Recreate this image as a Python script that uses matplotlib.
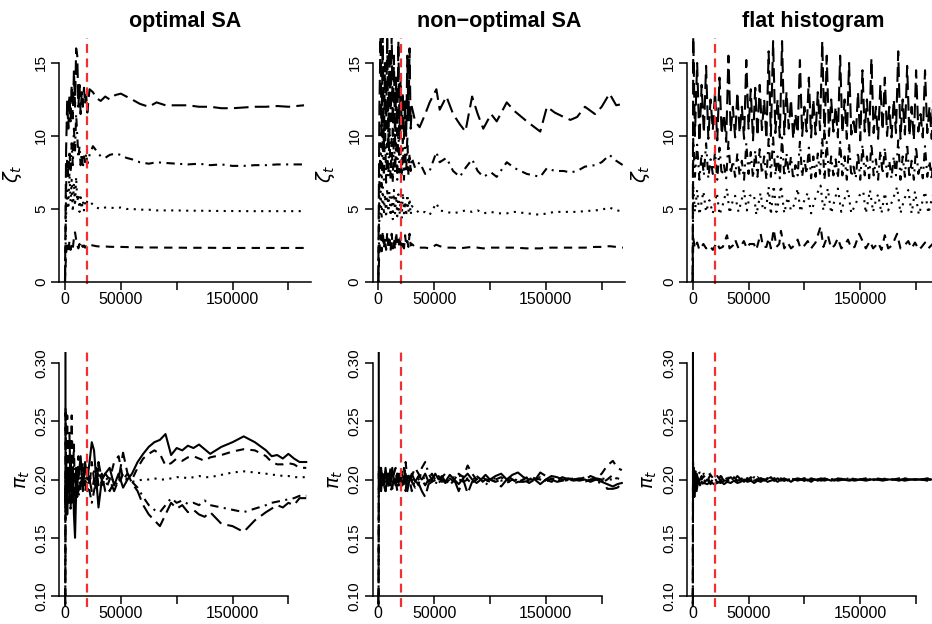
import matplotlib
matplotlib.use("Agg")
import matplotlib.pyplot as plt

plt.rcParams['font.family'] = ['Liberation Sans', 'DejaVu Sans']
plt.rcParams['mathtext.fontset'] = 'dejavusans'

# ---------------- data ----------------
titles = ["optimal SA", "non\u2212optimal SA", "flat histogram"]
xtick_vals = [0, 50000, 100000, 150000, 200000]
xtick_labels = ["0", "50000", "", "150000", ""]
ytick_top = [0, 5, 10, 15]
ytick_bot = [0.10, 0.15, 0.20, 0.25, 0.30]
ytick_bot_labels = ["0.10", "0.15", "0.20", "0.25", "0.30"]
burn_in = 20000

# optimal SA, zeta
tA = [0, 1000, 2000, 3000, 4000, 5000, 6000, 7000, 8000, 9000,
      10000, 11000, 12000, 13000, 14000, 15000, 16000, 17000, 18000, 19000,
      20000, 22000, 25000, 28000, 32000, 36000, 40000, 45000, 50000, 55000,
      60000, 67000, 75000, 82000, 90000, 100000, 110000, 120000, 130000, 140000,
      150000, 160000, 170000, 180000, 190000, 200000, 214000]
zA1 = [0, 2.0, 2.5, 2.1, 2.8, 2.2, 2.6, 2.3, 3.0, 3.4,
       2.9, 2.5, 2.3, 2.6, 2.3, 2.5, 2.4, 2.5, 2.35, 2.45,
       2.4, 2.55, 2.5, 2.45, 2.42, 2.43, 2.41, 2.4, 2.4, 2.39,
       2.38, 2.37, 2.36, 2.36, 2.35, 2.35, 2.34, 2.34, 2.34, 2.33,
       2.33, 2.33, 2.33, 2.33, 2.33, 2.33, 2.33]
zA2 = [0, 4.5, 6.5, 5.0, 7.5, 5.5, 7.0, 4.8, 6.8, 5.2,
       7.2, 5.5, 6.0, 4.8, 5.8, 5.0, 5.6, 4.9, 5.4, 5.2,
       5.6, 5.5, 5.3, 5.1, 5.0, 5.1, 5.1, 5.05, 5.1, 5.0,
       5.0, 4.95, 4.95, 4.9, 4.9, 4.9, 4.88, 4.88, 4.87, 4.86,
       4.86, 4.85, 4.85, 4.85, 4.85, 4.85, 4.85]
zA3 = [0, 6.5, 8.5, 7.0, 9.0, 7.5, 9.5, 8.0, 10.5, 9.0,
       11.5, 10.0, 8.5, 9.3, 8.0, 8.8, 7.8, 8.6, 8.2, 8.8,
       8.1, 8.7, 9.3, 9.0, 8.6, 8.5, 8.7, 8.8, 8.7, 8.5,
       8.4, 8.2, 8.1, 8.2, 8.15, 8.1, 8.05, 8.1, 8.0, 8.05,
       7.95, 7.95, 8.0, 8.0, 8.05, 8.05, 8.05]
zA4 = [0, 9.0, 12.5, 10.5, 12.8, 11.0, 13.5, 11.2, 14.5, 12.0,
       16.0, 15.5, 12.0, 13.5, 11.5, 13.0, 12.0, 13.3, 12.2, 12.8,
       11.6, 13.2, 13.0, 12.6, 12.4, 12.7, 12.5, 12.8, 12.9, 12.7,
       12.5, 12.2, 12.0, 12.3, 12.1, 12.1, 12.1, 12.0, 12.0, 11.9,
       11.9, 11.95, 12.0, 12.0, 12.05, 12.0, 12.1]

# optimal SA, pi
tB = [0, 500, 1000, 2000, 3000, 4000, 5000, 6000, 7000, 8000,
      9000, 10000, 11000, 12000, 14000, 16000, 18000, 20000, 22000, 24000,
      26000, 28000, 30000, 33000, 36000, 40000, 44000, 48000, 52000, 56000,
      60000, 65000, 70000, 75000, 80000, 85000, 90000, 95000, 100000, 105000,
      110000, 115000, 120000, 125000, 130000, 140000, 150000, 160000, 170000, 180000,
      185000, 190000, 195000, 200000, 205000, 210000, 216000]
pB1 = [1.0, 0.18, 0.22, 0.17, 0.21, 0.19, 0.215, 0.18, 0.21, 0.17,
       0.15, 0.19, 0.21, 0.20, 0.22, 0.19, 0.215, 0.20, 0.215, 0.232,
       0.225, 0.20, 0.176, 0.20, 0.205, 0.21, 0.195, 0.205, 0.193, 0.20,
       0.205, 0.215, 0.222, 0.228, 0.232, 0.234, 0.239, 0.221, 0.227, 0.225,
       0.229, 0.227, 0.23, 0.226, 0.222, 0.228, 0.232, 0.237, 0.232, 0.225,
       0.22, 0.221, 0.218, 0.222, 0.218, 0.215, 0.215]
pB2 = [0.0, 0.262, 0.2, 0.255, 0.18, 0.24, 0.19, 0.255, 0.2, 0.23,
       0.18, 0.21, 0.185, 0.22, 0.19, 0.215, 0.195, 0.21, 0.195, 0.215,
       0.2, 0.21, 0.195, 0.205, 0.19, 0.2, 0.215, 0.22, 0.2, 0.205,
       0.2, 0.21, 0.218, 0.222, 0.225, 0.222, 0.212, 0.214, 0.218, 0.216,
       0.219, 0.22, 0.218, 0.216, 0.219, 0.221, 0.224, 0.226, 0.225, 0.22,
       0.215, 0.213, 0.213, 0.214, 0.213, 0.21, 0.21]
pB3 = [0.0, 0.2, 0.21, 0.195, 0.205, 0.2, 0.21, 0.198, 0.205, 0.2,
       0.195, 0.205, 0.2, 0.207, 0.2, 0.205, 0.2, 0.206, 0.2, 0.203,
       0.207, 0.2, 0.204, 0.198, 0.202, 0.198, 0.201, 0.2, 0.199, 0.2,
       0.198, 0.199, 0.2, 0.2, 0.201, 0.2, 0.2, 0.201, 0.202, 0.202,
       0.201, 0.202, 0.203, 0.202, 0.202, 0.204, 0.206, 0.207, 0.206, 0.205,
       0.204, 0.204, 0.203, 0.203, 0.202, 0.202, 0.202]
pB4 = [0.0, 0.19, 0.175, 0.2, 0.21, 0.18, 0.2, 0.19, 0.185, 0.2,
       0.21, 0.195, 0.2, 0.185, 0.195, 0.2, 0.19, 0.2, 0.19, 0.18,
       0.19, 0.2, 0.21, 0.195, 0.2, 0.19, 0.198, 0.195, 0.205, 0.2,
       0.198, 0.193, 0.185, 0.178, 0.174, 0.172, 0.178, 0.184, 0.18, 0.182,
       0.179, 0.18, 0.178, 0.182, 0.178, 0.176, 0.174, 0.172, 0.175, 0.178,
       0.18, 0.181, 0.182, 0.183, 0.184, 0.186, 0.186]
pB5 = [0.0, 0.17, 0.195, 0.18, 0.2, 0.19, 0.175, 0.2, 0.2, 0.2,
       0.205, 0.2, 0.205, 0.19, 0.195, 0.2, 0.2, 0.19, 0.2, 0.19,
       0.2, 0.19, 0.215, 0.2, 0.205, 0.2, 0.19, 0.2, 0.223, 0.205,
       0.197, 0.19, 0.178, 0.17, 0.165, 0.16, 0.17, 0.18, 0.175, 0.178,
       0.172, 0.174, 0.17, 0.168, 0.172, 0.162, 0.16, 0.155, 0.165, 0.172,
       0.175, 0.178, 0.176, 0.18, 0.178, 0.184, 0.184]

# non-optimal SA, zeta
tC = [0, 1000, 2000, 3000, 4000, 5000, 6000, 7000, 8000, 9000,
      10000, 11000, 12000, 13000, 14000, 15000, 16000, 17000, 18000, 19000,
      20000, 21000, 22000, 23000, 24000, 25000, 26000, 27000, 28000, 29000,
      30000, 33000, 37000, 42000, 46000, 52000, 55000, 61000, 67000, 73000,
      78000, 84000, 89000, 94000, 101000, 106000, 115000, 122000, 133000, 145000,
      151000, 158000, 166000, 172000, 178000, 185000, 194000, 200000, 207000, 213000,
      219000]
zC1 = [0, 2.2, 3.2, 2.1, 3.5, 2.3, 3.0, 2.2, 3.4, 2.4,
       2.9, 2.1, 3.3, 2.3, 3.0, 2.2, 3.4, 2.5, 2.9, 2.3,
       3.1, 2.4, 2.8, 2.3, 3.2, 2.5, 2.8, 2.4, 3.3, 2.5,
       2.6, 2.4, 2.35, 2.35, 2.3, 2.55, 2.45, 2.35, 2.35, 2.3,
       2.35, 2.4, 2.35, 2.3, 2.35, 2.35, 2.35, 2.35, 2.3, 2.3,
       2.35, 2.35, 2.35, 2.35, 2.35, 2.35, 2.4, 2.4, 2.45, 2.4,
       2.35]
zC2 = [0, 4.5, 6.2, 4.3, 6.5, 4.6, 6.0, 4.4, 6.4, 4.8,
       6.2, 4.5, 5.8, 4.3, 6.3, 4.7, 5.9, 4.5, 6.0, 4.6,
       5.6, 4.4, 6.1, 4.7, 5.5, 4.5, 6.0, 4.8, 5.7, 4.6,
       5.2, 5.0, 4.7, 4.8, 4.6, 5.4, 4.9, 4.8, 4.7, 4.8,
       4.9, 4.8, 4.9, 4.7, 4.8, 4.7, 4.7, 4.8, 4.7, 4.6,
       4.7, 4.8, 4.8, 4.8, 4.8, 4.85, 4.9, 4.95, 5.1, 4.9,
       4.85]
zC3 = [0, 7, 9.5, 6.5, 10, 7, 11, 6.8, 9.5, 7.2,
       10.5, 7, 9.8, 6.8, 10.2, 7.5, 9.5, 7, 10.5, 7.5,
       9, 7.2, 9.8, 7, 9.2, 7.5, 10, 7.3, 8.8, 7.6,
       8.5, 7.8, 8.2, 7.4, 7.6, 8.9, 8.2, 8.5, 7.6, 7.2,
       7.8, 8.4, 7.6, 7.2, 7.5, 7.2, 8.2, 7.8, 7.4, 7.2,
       7.8, 7.6, 7.6, 7.5, 7.6, 7.9, 8.0, 8.2, 8.7, 8.3,
       8.0]
zC4 = [0, 12, 16.8, 10, 17, 9, 15, 10.5, 17, 9.5,
       16, 11, 17, 10, 15.5, 9.5, 14, 10, 16.5, 9.8,
       14, 10.5, 13, 9.8, 12.5, 10, 15.5, 11, 16, 10.5,
       12, 11.0, 10.6, 11.5, 12.3, 13.2, 11.8, 12.7, 11.5, 10.8,
       10.3, 12.7, 11.5, 10.5, 11.5, 11.0, 12.3, 11.7, 11.0, 10.3,
       12.0, 11.6, 11.3, 11.1, 11.3, 12.0, 11.5, 12.0, 12.9, 12.1,
       12.2]

# flat histogram, zeta (two lower series on a coarser grid)
tD = [0, 500, 2000, 4000, 6000, 9600, 12000, 15000, 18000, 21700,
      24000, 27000, 30700, 33000, 36000, 38000, 41000, 43500, 45800, 48500,
      51000, 54800, 57000, 60800, 63000, 66000, 68000, 70000, 72500, 75000,
      77500, 79000, 82000, 85000, 88000, 91000, 94000, 96500, 100000, 103000,
      106000, 110000, 114500, 117000, 121000, 124000, 127000, 130000, 133000, 136000,
      139000, 142000, 145000, 149000, 152700, 155000, 158700, 161500, 164000, 166000,
      169000, 172000, 175000, 178500, 183000, 186000, 189500, 193000, 196000, 199000,
      202500, 205000, 208000, 211000, 213500, 216000, 219000, 222000, 226000]
zD1 = [0, 3.0, 2.3, 2.7, 2.2, 2.6, 2.3, 2.5, 2.2, 2.7,
       2.3, 2.4, 3.2, 2.3, 2.5, 2.9, 2.3, 2.5, 2.8, 2.3,
       2.6, 2.6, 2.2, 3.3, 2.4, 2.4, 3.0, 2.3, 3.6, 2.4,
       2.6, 3.5, 2.3, 2.7, 2.3, 2.5, 2.9, 2.3, 2.5, 2.8,
       2.3, 2.7, 3.8, 2.4, 3.2, 2.3, 2.5, 3.0, 2.3, 2.5,
       2.9, 2.3, 2.4, 3.3, 2.7, 2.3, 2.8, 2.3, 2.5, 2.7,
       2.2, 3.2, 2.3, 2.5, 3.3, 2.3, 2.5, 2.8, 2.3, 2.7,
       2.2, 2.4, 2.7, 2.3, 2.5, 2.7, 2.3, 2.6, 2.3]
zD2 = [0, 6.6, 4.8, 6.3, 4.6, 6.2, 4.8, 5.6, 4.7, 6.1,
       4.6, 5.3, 6.4, 4.7, 5.6, 5.9, 4.8, 5.5, 6.3, 4.9,
       5.9, 6.0, 4.6, 6.1, 4.9, 5.2, 6.5, 4.6, 6.6, 4.8,
       5.7, 6.6, 4.7, 5.8, 4.9, 5.3, 6.4, 4.8, 5.6, 6.1,
       4.7, 5.8, 6.6, 4.9, 6.4, 4.7, 5.6, 6.4, 4.8, 5.7,
       6.3, 4.7, 5.2, 5.9, 6.2, 4.7, 6.3, 4.8, 5.6, 6.0,
       4.7, 6.1, 4.9, 5.5, 6.5, 4.7, 5.7, 6.3, 4.7, 6.2,
       4.6, 5.3, 6.2, 4.7, 5.5, 6.2, 4.8, 5.8, 4.7]
# flat histogram, zeta (two upper series on a finer grid)
tD_fine = [0, 500,
           2000, 4000, 6000, 8000, 10000, 12000, 14000, 16000, 18000, 20000,
           22000, 24000, 26000, 28000, 30000, 32000, 34000, 36000, 38000, 40000,
           42000, 44000, 46000, 48000, 50000, 52000, 54000, 56000, 58000, 60000,
           62000, 64000, 66000, 68000, 70000, 72000, 74000, 76000, 78000, 80000,
           82000, 84000, 86000, 88000, 90000, 92000, 94000, 96000, 98000, 100000,
           102000, 104000, 106000, 108000, 110000, 112000, 114000, 116000, 118000, 120000,
           122000, 124000, 126000, 128000, 130000, 132000, 134000, 136000, 138000, 140000,
           142000, 144000, 146000, 148000, 150000, 152000, 154000, 156000, 158000, 160000,
           162000, 164000, 166000, 168000, 170000, 172000, 174000, 176000, 178000, 180000,
           182000, 184000, 186000, 188000, 190000, 192000, 194000, 196000, 198000, 200000,
           202000, 204000, 206000, 208000, 210000, 212000, 214000, 216000, 218000, 220000,
           222000, 224000, 226000]
zD3 = [0, 9.8,
       7.2, 9.4, 7.0, 8.8, 7.3, 9.5, 7.1, 8.4, 7.4, 8.9,
       7.0, 9.2, 7.3, 8.0, 7.1, 9.6, 7.4, 8.3, 7.2, 8.8,
       7.3, 8.3, 7.0, 9.5, 7.4, 8.9, 7.1, 9.0, 7.2, 9.1,
       7.4, 8.6, 7.0, 9.8, 7.2, 9.9, 7.3, 8.6, 7.1, 9.9,
       7.2, 8.8, 7.4, 8.6, 7.0, 8.0, 7.3, 9.6, 7.2, 8.4,
       7.4, 9.2, 7.1, 8.6, 7.2, 8.8, 7.4, 9.9, 7.0, 9.6,
       7.2, 8.6, 7.3, 8.4, 7.1, 9.6, 7.3, 8.6, 7.0, 9.5,
       7.2, 7.9, 7.1, 8.9, 7.0, 9.4, 7.3, 8.6, 7.1, 9.5,
       7.3, 8.4, 7.0, 9.0, 7.4, 9.2, 7.2, 8.3, 7.1, 8.6,
       7.3, 9.7, 7.0, 8.6, 7.2, 9.5, 7.1, 8.3, 7.0, 9.3,
       7.4, 8.0, 7.1, 9.3, 7.2, 8.3, 7.0, 9.3, 7.2, 8.8,
       7.1, 8.9, 7.2]
zD4 = [0, 16.8,
       10.0, 15.0, 9.6, 13.5, 10.2, 14.8, 9.8, 12.5, 10.4, 13.0,
       9.7, 14.0, 10.1, 11.5, 9.6, 15.5, 10.3, 12.0, 9.9, 13.0,
       10.2, 12.0, 9.8, 15.2, 10.5, 13.2, 9.7, 13.3, 10.0, 13.5,
       10.4, 12.5, 9.8, 15.8, 10.0, 16.5, 10.2, 12.5, 9.9, 16.5,
       10.1, 13.0, 10.5, 12.5, 9.8, 11.5, 10.2, 15.2, 10.0, 12.0,
       10.3, 14.0, 9.9, 12.5, 10.1, 13.0, 10.4, 16.5, 9.8, 15.5,
       10.0, 12.5, 10.3, 12.0, 9.9, 15.5, 10.2, 12.5, 9.8, 15.0,
       10.1, 11.0, 10.0, 13.0, 9.7, 14.5, 10.3, 12.5, 9.9, 15.3,
       10.2, 12.0, 9.8, 13.5, 10.4, 14.0, 10.0, 12.0, 9.9, 12.5,
       10.2, 15.8, 9.8, 12.5, 10.1, 14.8, 10.0, 12.0, 9.7, 14.5,
       10.3, 11.5, 9.9, 14.5, 10.2, 12.0, 9.8, 14.5, 10.1, 12.5,
       9.9, 13.0, 10.0]

# non-optimal SA, pi
tE = [0, 500, 1500, 2500, 3500, 5000, 6500, 8000, 9500, 11000,
      12500, 14000, 15500, 17000, 18500, 20000, 21500, 23000, 24500, 26000,
      28000, 30000, 33000, 36000, 39000, 42000, 45000, 48000, 51000, 54000,
      57000, 60000, 64000, 68000, 72000, 76000, 80000, 84000, 88000, 92000,
      96000, 100000, 105000, 110000, 115000, 120000, 125000, 130000, 135000, 140000,
      145000, 150000, 155000, 160000, 165000, 170000, 175000, 180000, 185000, 190000,
      195000, 200000, 205000, 210000, 214000, 218000]
pE1 = [1.0, 0.195, 0.21, 0.19, 0.205, 0.195, 0.21, 0.198, 0.205, 0.195,
       0.21, 0.2, 0.195, 0.205, 0.198, 0.203, 0.195, 0.2, 0.205, 0.19,
       0.2, 0.205, 0.198, 0.203, 0.2, 0.205, 0.198, 0.2, 0.205, 0.2,
       0.203, 0.198, 0.204, 0.2, 0.196, 0.201, 0.205, 0.2, 0.197, 0.2,
       0.204, 0.2, 0.203, 0.205, 0.2, 0.204, 0.206, 0.202, 0.2, 0.2,
       0.196, 0.2, 0.203, 0.202, 0.2, 0.201, 0.2, 0.199, 0.2, 0.198,
       0.2, 0.198, 0.196, 0.194, 0.196, 0.197]
pE2 = [0.0, 0.212, 0.19, 0.208, 0.195, 0.205, 0.19, 0.205, 0.2, 0.21,
       0.192, 0.205, 0.21, 0.195, 0.205, 0.2, 0.208, 0.196, 0.215, 0.2,
       0.196, 0.203, 0.21, 0.205, 0.2, 0.195, 0.2, 0.205, 0.2, 0.198,
       0.202, 0.205, 0.201, 0.198, 0.205, 0.202, 0.212, 0.205, 0.2, 0.203,
       0.2, 0.198, 0.2, 0.202, 0.197, 0.2, 0.198, 0.2, 0.203, 0.201,
       0.2, 0.198, 0.201, 0.2, 0.202, 0.2, 0.2, 0.201, 0.2, 0.203,
       0.201, 0.205, 0.212, 0.216, 0.21, 0.208]
pE3 = [0.0, 0.2, 0.205, 0.197, 0.2, 0.206, 0.2, 0.195, 0.2, 0.204,
       0.2, 0.196, 0.2, 0.203, 0.199, 0.2, 0.204, 0.2, 0.197, 0.2,
       0.203, 0.2, 0.198, 0.2, 0.203, 0.2, 0.201, 0.197, 0.2, 0.202,
       0.2, 0.198, 0.2, 0.202, 0.2, 0.199, 0.201, 0.2, 0.202, 0.2,
       0.198, 0.2, 0.201, 0.199, 0.2, 0.201, 0.199, 0.2, 0.201, 0.2,
       0.201, 0.199, 0.2, 0.2, 0.201, 0.199, 0.2, 0.201, 0.2, 0.199,
       0.2, 0.201, 0.2, 0.2, 0.201, 0.2]
pE4 = [0.0, 0.19, 0.2, 0.21, 0.195, 0.2, 0.208, 0.2, 0.192, 0.2,
       0.206, 0.198, 0.2, 0.19, 0.2, 0.205, 0.2, 0.21, 0.195, 0.205,
       0.2, 0.19, 0.2, 0.195, 0.21, 0.215, 0.205, 0.2, 0.195, 0.203,
       0.198, 0.2, 0.195, 0.2, 0.205, 0.198, 0.2, 0.196, 0.203, 0.2,
       0.195, 0.2, 0.198, 0.2, 0.204, 0.2, 0.197, 0.2, 0.197, 0.2,
       0.202, 0.2, 0.198, 0.2, 0.198, 0.2, 0.201, 0.2, 0.198, 0.2,
       0.198, 0.197, 0.2, 0.204, 0.2, 0.199]
pE5 = [0.0, 0.205, 0.195, 0.2, 0.205, 0.195, 0.19, 0.202, 0.205, 0.19,
       0.195, 0.2, 0.198, 0.205, 0.195, 0.2, 0.195, 0.2, 0.19, 0.205,
       0.202, 0.198, 0.193, 0.197, 0.19, 0.185, 0.196, 0.198, 0.2, 0.197,
       0.2, 0.197, 0.2, 0.2, 0.19, 0.2, 0.188, 0.198, 0.2, 0.197,
       0.2, 0.2, 0.198, 0.194, 0.2, 0.196, 0.198, 0.198, 0.199, 0.199,
       0.206, 0.203, 0.2, 0.198, 0.199, 0.2, 0.199, 0.2, 0.202, 0.2,
       0.201, 0.2, 0.192, 0.192, 0.193, 0.196]

# flat histogram, pi
tF = [0, 300, 800, 1500, 2500, 3500, 5000, 6500, 8000, 10000,
      13000, 16000, 19000, 22000, 25000, 28000, 31000, 34000, 37000, 40000,
      43000, 46000, 49000, 52000, 55000, 58000, 61000, 64000, 67000, 70000,
      73000, 76000, 79000, 82000, 85000, 88000, 91000, 94000, 97000, 100000,
      103000, 106000, 109000, 112000, 115000, 118000, 121000, 124000, 127000, 130000,
      135000, 140000, 145000, 150000, 155000, 160000, 165000, 170000, 175000, 180000,
      185000, 190000, 195000, 200000, 205000, 210000, 215000, 220000, 225000]
pF1 = [1.0, 0.19, 0.21, 0.185, 0.205, 0.19, 0.2, 0.195, 0.198, 0.197,
       0.196, 0.198, 0.196, 0.197, 0.199, 0.196, 0.198, 0.197, 0.199, 0.197,
       0.198, 0.2, 0.198, 0.199, 0.197, 0.199, 0.198, 0.2, 0.198, 0.199,
       0.2, 0.198, 0.2, 0.199, 0.2, 0.198, 0.2, 0.199, 0.2, 0.199,
       0.2, 0.198, 0.2, 0.199, 0.2, 0.199, 0.2, 0.199, 0.2, 0.199,
       0.2, 0.199, 0.2, 0.2, 0.199, 0.2, 0.2, 0.199, 0.2, 0.2,
       0.2, 0.199, 0.2, 0.2, 0.2, 0.2, 0.2, 0.2, 0.2]
pF2 = [0.0, 0.215, 0.19, 0.21, 0.195, 0.205, 0.198, 0.204, 0.2, 0.203,
       0.199, 0.204, 0.2, 0.203, 0.199, 0.203, 0.2, 0.202, 0.199, 0.203,
       0.2, 0.202, 0.199, 0.202, 0.2, 0.202, 0.199, 0.201, 0.2, 0.202,
       0.199, 0.201, 0.2, 0.201, 0.199, 0.201, 0.2, 0.201, 0.2, 0.201,
       0.199, 0.201, 0.2, 0.201, 0.2, 0.201, 0.2, 0.201, 0.2, 0.2,
       0.201, 0.2, 0.2, 0.201, 0.2, 0.2, 0.201, 0.2, 0.2, 0.2,
       0.201, 0.2, 0.2, 0.2, 0.2, 0.201, 0.2, 0.2, 0.2]
pF3 = [0.0, 0.2, 0.205, 0.2, 0.207, 0.2, 0.205, 0.206, 0.203, 0.205,
       0.203, 0.205, 0.202, 0.204, 0.202, 0.203, 0.201, 0.203, 0.201, 0.202,
       0.2, 0.202, 0.201, 0.2, 0.202, 0.2, 0.201, 0.2, 0.201, 0.2,
       0.201, 0.2, 0.2, 0.201, 0.2, 0.2, 0.201, 0.2, 0.2, 0.201,
       0.2, 0.2, 0.201, 0.2, 0.2, 0.2, 0.201, 0.2, 0.2, 0.2,
       0.2, 0.201, 0.2, 0.2, 0.2, 0.2, 0.2, 0.201, 0.2, 0.2,
       0.2, 0.2, 0.2, 0.2, 0.2, 0.2, 0.2, 0.2, 0.2]
pF4 = [0.0, 0.2, 0.185, 0.205, 0.19, 0.2, 0.197, 0.2, 0.203, 0.198,
       0.202, 0.197, 0.202, 0.198, 0.203, 0.199, 0.202, 0.198, 0.202, 0.199,
       0.202, 0.198, 0.201, 0.199, 0.202, 0.199, 0.201, 0.199, 0.201, 0.199,
       0.201, 0.2, 0.201, 0.199, 0.201, 0.2, 0.199, 0.201, 0.2, 0.199,
       0.201, 0.2, 0.199, 0.2, 0.201, 0.2, 0.199, 0.2, 0.201, 0.2,
       0.2, 0.2, 0.201, 0.2, 0.2, 0.2, 0.199, 0.2, 0.2, 0.2,
       0.2, 0.2, 0.2, 0.2, 0.2, 0.2, 0.2, 0.2, 0.2]
pF5 = [0.0, 0.195, 0.21, 0.2, 0.203, 0.205, 0.2, 0.197, 0.196, 0.197,
       0.2, 0.196, 0.2, 0.198, 0.197, 0.199, 0.199, 0.2, 0.199, 0.199,
       0.2, 0.198, 0.201, 0.2, 0.199, 0.2, 0.201, 0.2, 0.2, 0.2,
       0.199, 0.201, 0.199, 0.2, 0.2, 0.201, 0.2, 0.2, 0.2, 0.201,
       0.2, 0.201, 0.2, 0.2, 0.199, 0.2, 0.2, 0.2, 0.199, 0.201,
       0.2, 0.2, 0.199, 0.2, 0.201, 0.2, 0.2, 0.2, 0.2, 0.2,
       0.199, 0.201, 0.2, 0.2, 0.2, 0.199, 0.2, 0.2, 0.2]

# ---------------- styles ----------------
LS_SOLID = '-'
LS_DASH = (0, (4, 3))
LS_DOT = (0, (1, 2.6))
LS_DOTDASH = (0, (1, 2.6, 4, 2.6))
LS_LONGDASH = (0, (7, 3))

top_panels = [
    [(tA, zA1, LS_DASH), (tA, zA2, LS_DOT), (tA, zA3, LS_DOTDASH), (tA, zA4, LS_LONGDASH)],
    [(tC, zC1, LS_DASH), (tC, zC2, LS_DOT), (tC, zC3, LS_DOTDASH), (tC, zC4, LS_LONGDASH)],
    [(tD, zD1, LS_DASH), (tD, zD2, LS_DOT), (tD_fine, zD3, LS_DOTDASH), (tD_fine, zD4, LS_LONGDASH)],
]
pi_styles = [LS_SOLID, LS_DASH, LS_DOT, LS_DOTDASH, LS_LONGDASH]
bot_panels = [(tB, [pB1, pB2, pB3, pB4, pB5]),
              (tE, [pE1, pE2, pE3, pE4, pE5]),
              (tF, [pF1, pF2, pF3, pF4, pF5])]

W, H = 932, 624
fig = plt.figure(figsize=(W / 100, H / 100), dpi=100)

col_left = [59.4, 372.7, 687.1]
ax_w = 252
row_top = (38, 284)
row_bot = (352, 607)
XLIM = (-5000, 220600)
LW = 1.5

def make_ax(lpx, rows):
    t, b = rows
    return fig.add_axes([lpx / W, 1 - b / H, ax_w / W, (b - t) / H])

def style_common(ax):
    for s in ['top', 'right']:
        ax.spines[s].set_visible(False)
    for s in ['left', 'bottom']:
        ax.spines[s].set_linewidth(1.1)
    ax.tick_params(direction='out', length=6, width=1.1, colors='black')
    ax.tick_params(axis='x', labelsize=11.5, pad=1.5)
    ax.tick_params(axis='y', labelsize=11, pad=2, labelrotation=90)
    ax.set_xlim(*XLIM)
    ax.set_xticks(xtick_vals)
    ax.set_xticklabels(xtick_labels)

for i in range(3):
    # top row: zeta
    ax = make_ax(col_left[i], row_top)
    style_common(ax)
    for t, vals, ls in top_panels[i]:
        assert len(vals) == len(t)
        ax.plot(t, vals, color='black', lw=LW, ls=ls)
    ax.set_ylim(-0.14, 16.71)
    ax.set_yticks(ytick_top)
    ax.set_yticklabels([str(v) for v in ytick_top])
    ax.spines['left'].set_bounds(0, 15)
    ax.spines['bottom'].set_position(('data', 0))
    ax.axvline(burn_in, color='#f03030', lw=1.6, ls=(0, (4, 2.5)))
    for lab in ax.get_yticklabels():
        lab.set_va('center')
    ax.set_ylabel(r'$\zeta_t$', fontsize=14)
    ax.yaxis.set_label_coords(-0.14, 0.45)
    ax.text(0.5, 1 + (38 - 27) / 246, titles[i], transform=ax.transAxes,
            ha='center', va='baseline', fontsize=15.5, fontweight='bold')

    # bottom row: pi
    ax = make_ax(col_left[i], row_bot)
    style_common(ax)
    t, series = bot_panels[i]
    for vals, ls in zip(series, pi_styles):
        assert len(vals) == len(t)
        ax.plot(t, vals, color='black', lw=LW, ls=ls)
    ax.set_ylim(0.0906, 0.3094)
    ax.set_yticks(ytick_bot)
    ax.set_yticklabels(ytick_bot_labels)
    ax.spines['left'].set_bounds(0.10, 0.30)
    ax.spines['bottom'].set_position(('data', 0.10))
    ax.spines['bottom'].set_bounds(XLIM[0], 200000)
    ax.axvline(burn_in, color='#f03030', lw=1.6, ls=(0, (4, 2.5)))
    for lab in ax.get_yticklabels():
        lab.set_va('center')
    ax.set_ylabel(r'$\pi_t$', fontsize=14)
    ax.yaxis.set_label_coords(-0.11, 0.5)

fig.savefig("out.png", dpi=100)
